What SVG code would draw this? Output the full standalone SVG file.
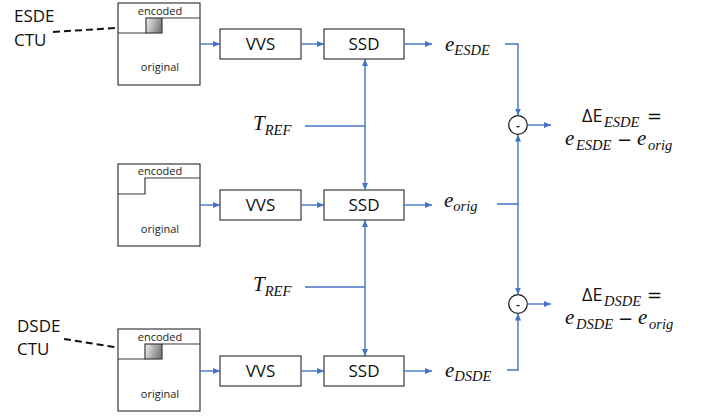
<svg xmlns="http://www.w3.org/2000/svg" width="710" height="416" viewBox="0 0 710 416">
<defs>
<linearGradient id="ctuGrad" x1="0" y1="0" x2="1" y2="0.3">
<stop offset="0" stop-color="#f2f2f2"/>
<stop offset="1" stop-color="#7f7f7f"/>
</linearGradient>
<marker id="arr" markerUnits="userSpaceOnUse" markerWidth="8" markerHeight="8" refX="7" refY="3" orient="auto">
<path d="M0,0 L7,3 L0,6 z" fill="#4472C4"/>
</marker>
<style>
.frame{fill:#fff;stroke:#3a3a3a;stroke-width:1.2}
.ln{fill:none;stroke:#3a3a3a;stroke-width:1.2}
.box{fill:#fff;stroke:#3a3a3a;stroke-width:1.2}
.ctu{fill:url(#ctuGrad);stroke:#3a3a3a;stroke-width:1.2}
.small{font-family:"Open Sans",sans-serif;font-size:11px;fill:#222;text-anchor:middle}
.lbl{font-family:"Open Sans",sans-serif;font-size:17px;fill:#111}
.blk{font-family:"Open Sans",sans-serif;font-size:17px;fill:#111;text-anchor:middle}
.dash{fill:none;stroke:#111;stroke-width:2;stroke-dasharray:7,4}
.c{fill:none;stroke:#4472C4;stroke-width:1.4}
.ca{fill:none;stroke:#4472C4;stroke-width:1.4;marker-end:url(#arr)}
.m{font-family:"Liberation Serif","DejaVu Serif",serif;font-style:italic;fill:#111}
.me{font-size:21px}
.ms{font-size:14.5px}
.up{font-family:"Open Sans",sans-serif;font-size:18px;fill:#111}
.op{font-family:"DejaVu Sans",sans-serif;font-size:18px;fill:#111}
</style>
</defs>

<g id="label-esde-ctu">
<text class="lbl" x="14" y="22">ESDE</text>
<text class="lbl" x="14" y="46">CTU</text>
<path class="dash" d="M53,32 L146,26"/>
</g>
<g id="label-dsde-ctu">
<text class="lbl" x="17" y="332">DSDE</text>
<text class="lbl" x="17" y="355">CTU</text>
<path class="dash" d="M64,339 L145,352"/>
</g>

<g id="img-esde">
<rect class="frame" x="118" y="3" width="82" height="82"/>
<path class="ln" d="M162,18 H200 M118,33 H146"/>
<rect class="ctu" x="146" y="18" width="16" height="15"/>
<text class="small" x="160" y="15">encoded</text>
<text class="small" x="160" y="71">original</text>
</g>
<g id="img-orig">
<rect class="frame" x="118" y="164" width="82" height="82"/>
<path class="ln" d="M200,178 H145 V194 H118"/>
<text class="small" x="160" y="175">encoded</text>
<text class="small" x="160" y="233">original</text>
</g>
<g id="img-dsde">
<rect class="frame" x="118" y="329" width="82" height="82"/>
<path class="ln" d="M162,344 H200 M118,359 H145"/>
<rect class="ctu" x="145" y="344" width="17" height="15"/>
<text class="small" x="160" y="341">encoded</text>
<text class="small" x="160" y="398">original</text>
</g>

<g id="vvs1"><rect class="box" x="220" y="29" width="81" height="30"/><text class="blk" x="260.5" y="50">VVS</text></g>
<g id="ssd1"><rect class="box" x="324" y="29" width="80" height="30"/><text class="blk" x="364" y="50">SSD</text></g>
<g id="vvs2"><rect class="box" x="220" y="190" width="81" height="30"/><text class="blk" x="260.5" y="211">VVS</text></g>
<g id="ssd2"><rect class="box" x="324" y="190" width="80" height="30"/><text class="blk" x="364" y="211">SSD</text></g>
<g id="vvs3"><rect class="box" x="220" y="356" width="81" height="30"/><text class="blk" x="260.5" y="377">VVS</text></g>
<g id="ssd3"><rect class="box" x="324" y="356" width="80" height="30"/><text class="blk" x="364" y="377">SSD</text></g>

<g id="e-esde"><text class="m" x="445" y="51"><tspan class="me">e</tspan><tspan class="ms" dy="4">ESDE</tspan></text></g>
<g id="e-orig"><text class="m" x="444" y="207"><tspan class="me">e</tspan><tspan class="ms" dy="4">orig</tspan></text></g>
<g id="e-dsde"><text class="m" x="445" y="377"><tspan class="me">e</tspan><tspan class="ms" dy="4">DSDE</tspan></text></g>

<g id="tref1"><text class="m" x="253" y="130"><tspan class="me">T</tspan><tspan class="ms" dy="5">REF</tspan></text></g>
<g id="tref2"><text class="m" x="253" y="291"><tspan class="me">T</tspan><tspan class="ms" dy="5">REF</tspan></text></g>

<g id="sub1">
<circle cx="518" cy="125" r="9.3" fill="#fff" stroke="#111" stroke-width="1.2"/>
<text x="518" y="129" font-family="Open Sans,sans-serif" font-size="11" font-weight="bold" text-anchor="middle" fill="#111">-</text>
</g>
<g id="sub2">
<circle cx="518" cy="304" r="9.3" fill="#fff" stroke="#111" stroke-width="1.2"/>
<text x="518" y="308" font-family="Open Sans,sans-serif" font-size="11" font-weight="bold" text-anchor="middle" fill="#111">-</text>
</g>

<g id="eq-esde">
<text class="up" x="582" y="122">ΔE</text>
<text class="m ms" x="604" y="127">ESDE</text>
<text class="op" x="647" y="122">=</text>
<text class="m me" x="565" y="145">e</text>
<text class="m ms" x="576" y="150">ESDE</text>
<text class="op" x="617" y="146">−</text>
<text class="m me" x="637" y="145">e</text>
<text class="m ms" x="648" y="150">orig</text>
</g>
<g id="eq-dsde">
<text class="up" x="582" y="301">ΔE</text>
<text class="m ms" x="604" y="306">DSDE</text>
<text class="op" x="647" y="301">=</text>
<text class="m me" x="565" y="324">e</text>
<text class="m ms" x="576" y="329">DSDE</text>
<text class="op" x="618" y="325">−</text>
<text class="m me" x="638" y="324">e</text>
<text class="m ms" x="649" y="329">orig</text>
</g>

<g id="connectors">
<path class="ca" d="M200,44 H220"/>
<path class="ca" d="M301,44 H324"/>
<path class="ca" d="M404,44 H432"/>
<path class="ca" d="M200,205 H220"/>
<path class="ca" d="M301,205 H324"/>
<path class="ca" d="M404,205 H432"/>
<path class="ca" d="M200,371 H220"/>
<path class="ca" d="M301,371 H324"/>
<path class="ca" d="M404,371 H432"/>
<path class="c" d="M305,126 H365"/>
<path class="ca" d="M365,126 V59"/>
<path class="ca" d="M365,126 V190"/>
<path class="c" d="M305,287 H365"/>
<path class="ca" d="M365,287 V220"/>
<path class="ca" d="M365,287 V356"/>
<path class="ca" d="M505,44 H518 V115.5"/>
<path class="ca" d="M497,204 H518 V294.5"/>
<path class="ca" d="M518,204 V134.5"/>
<path class="ca" d="M507,370 H518 V313.5"/>
<path class="ca" d="M527.3,125 H551"/>
<path class="ca" d="M527.3,304 H551"/>
</g>
</svg>
